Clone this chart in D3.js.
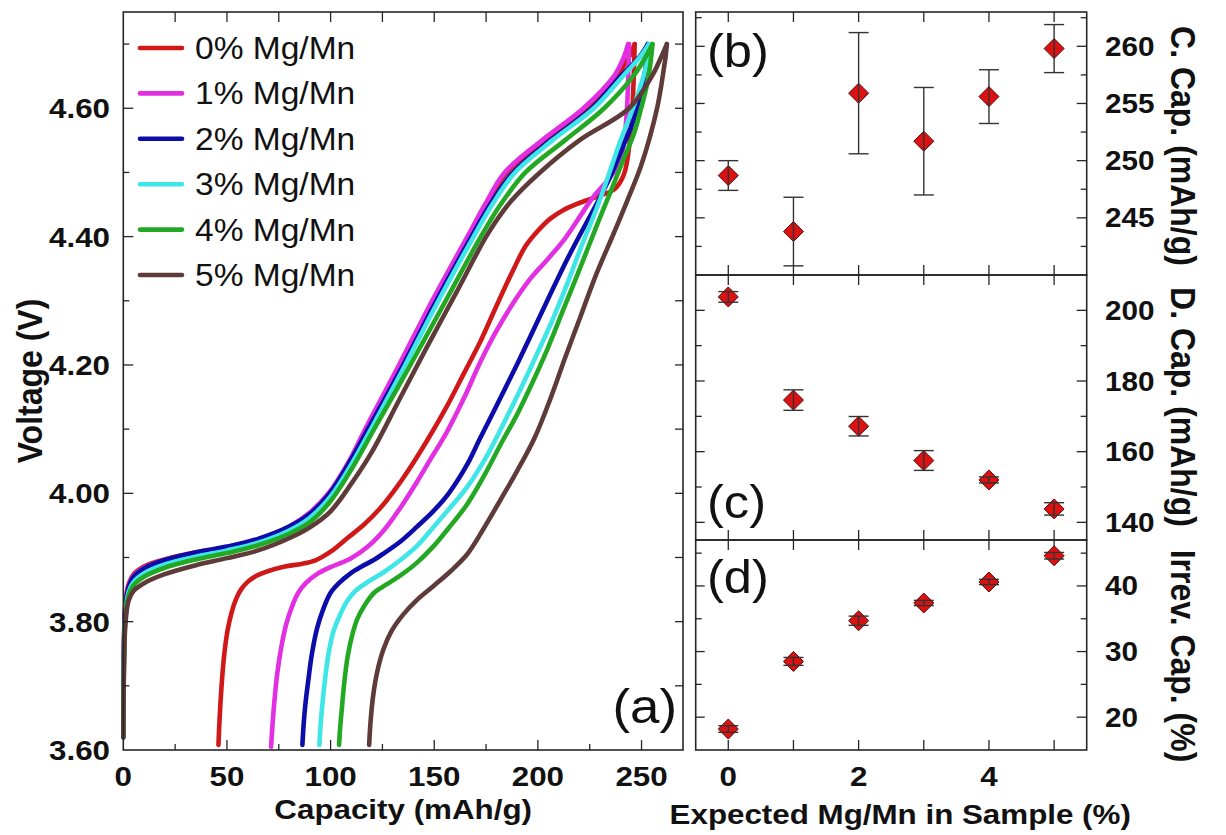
<!DOCTYPE html>
<html>
<head>
<meta charset="utf-8">
<script src="https://cdn.jsdelivr.net/npm/d3@7"></script>
<style>
  html, body { margin: 0; padding: 0; background: #fff; }
  svg { display: block; }
  text { font-family: "Liberation Sans", Arial, sans-serif; fill: #111; }
</style>
</head>
<body>
<svg id="fig" width="1226" height="835"></svg>
<script>
// ---------- data: voltage profiles (capacity mAh/g, voltage V) ----------
const seriesLabels = ["0% Mg/Mn", "1% Mg/Mn", "2% Mg/Mn", "3% Mg/Mn", "4% Mg/Mn", "5% Mg/Mn"];

const charge0 = [[0,3.62],[0.3,3.765],[1,3.828],[2.5,3.858],[5,3.874],[10,3.886],[20,3.897],[35,3.908],[50,3.916],[65,3.928],[80,3.948],[90,3.969],[99.5,4.0],[108.5,4.045],[118,4.105],[133.5,4.2],[149.5,4.3],[166.5,4.4],[175,4.45],[185,4.5],[203,4.55],[223,4.6],[238,4.65],[244,4.68],[246.7,4.70]];
const charge1 = [[0,3.62],[0.3,3.76],[1,3.825],[2.5,3.856],[5,3.872],[10,3.884],[20,3.896],[35,3.907],[50,3.915],[65,3.927],[80,3.948],[90,3.97],[99,4.0],[108,4.045],[117.5,4.105],[133,4.2],[149,4.3],[166,4.4],[174.5,4.45],[184,4.5],[202,4.55],[222,4.6],[236.7,4.65],[241.5,4.68],[243.5,4.70]];
const charge2 = [[0,3.62],[0.3,3.75],[1,3.82],[2.5,3.853],[5,3.87],[10,3.883],[20,3.896],[35,3.908],[50,3.917],[65,3.929],[80,3.948],[90,3.968],[99.5,4.0],[109,4.048],[118.5,4.103],[135,4.2],[151,4.3],[168,4.4],[177,4.45],[188,4.5],[206,4.55],[226,4.6],[240,4.65],[249,4.68],[253,4.70]];
const charge3 = [[0,3.62],[0.3,3.74],[1,3.812],[2.5,3.845],[5,3.862],[10,3.875],[20,3.889],[35,3.901],[50,3.911],[65,3.923],[80,3.942],[90,3.962],[100,3.995],[110,4.045],[119.5,4.1],[136,4.2],[152,4.3],[169,4.4],[178,4.45],[189,4.5],[207,4.55],[227,4.6],[241,4.65],[249.6,4.681],[253.6,4.70]];
const charge4 = [[0,3.62],[0.3,3.73],[1,3.805],[2.5,3.84],[5,3.857],[10,3.87],[20,3.884],[35,3.897],[50,3.907],[65,3.919],[80,3.937],[90,3.955],[100,3.988],[110,4.037],[121,4.1],[138.5,4.2],[155.5,4.3],[172.5,4.4],[182,4.45],[194,4.5],[213,4.55],[232,4.6],[246,4.65],[252,4.68],[255.3,4.70]];
const charge5 = [[0,3.62],[0.3,3.72],[1,3.795],[2.5,3.832],[5,3.848],[10,3.86],[20,3.874],[35,3.888],[50,3.899],[65,3.911],[80,3.93],[90,3.947],[100,3.972],[110,4.015],[120,4.065],[133,4.145],[146,4.225],[161,4.315],[176,4.405],[187,4.455],[201,4.5],[220,4.55],[244,4.6],[255,4.65],[259.5,4.68],[262.2,4.70]];

const discharge0 = [[246.7,4.70],[246.4,4.665],[245.6,4.6],[244.2,4.545],[241.5,4.497],[237,4.474],[230,4.464],[224,4.457],[218,4.45],[212.6,4.442],[206,4.428],[199.7,4.408],[194,4.385],[188.4,4.35],[180,4.292],[172.3,4.237],[164,4.185],[156,4.135],[148,4.09],[140,4.048],[132,4.01],[124,3.977],[116,3.951],[108,3.93],[100,3.909],[93,3.896],[86,3.89],[78,3.886],[70,3.879],[64,3.871],[60,3.862],[57,3.851],[54.5,3.836],[52.3,3.815],[50.5,3.79],[49.1,3.76],[48,3.725],[47.1,3.685],[46.4,3.645],[45.9,3.608]];
const discharge1 = [[244,4.70],[243.6,4.65],[243,4.6],[242,4.56],[240.5,4.53],[237.5,4.505],[233,4.485],[227,4.463],[220,4.43],[212.6,4.395],[204.5,4.364],[196,4.333],[188.4,4.298],[180,4.253],[172.3,4.205],[164.3,4.148],[156,4.095],[148,4.052],[141.7,4.018],[134,3.979],[125.6,3.942],[118,3.917],[109.5,3.898],[100,3.885],[93.4,3.874],[88,3.86],[84,3.843],[81,3.82],[78.5,3.795],[76.2,3.76],[74.3,3.72],[73,3.68],[72,3.64],[71.3,3.605]];
const discharge2 = [[253,4.70],[251.8,4.66],[249.5,4.62],[246,4.58],[241,4.54],[235,4.494],[229,4.455],[222,4.413],[214.2,4.365],[204.5,4.3],[191.6,4.212],[180,4.136],[172,4.085],[165.9,4.045],[157,4.0],[149.8,3.973],[141.7,3.948],[133.7,3.925],[125,3.905],[120.8,3.896],[115,3.886],[109.5,3.875],[104,3.86],[100,3.845],[96.5,3.82],[93.5,3.79],[91,3.75],[89.3,3.71],[87.8,3.67],[87,3.64],[86.4,3.608]];
const discharge3 = [[253.6,4.70],[252.5,4.67],[250.5,4.645],[247,4.61],[243.5,4.58],[240,4.551],[234,4.495],[228.7,4.447],[221,4.385],[214.2,4.327],[207,4.27],[199.7,4.218],[192,4.165],[185.2,4.12],[176,4.062],[165.9,4.01],[157,3.975],[149.8,3.948],[141.7,3.918],[133.7,3.896],[125.6,3.877],[118,3.862],[112,3.848],[108,3.832],[104.5,3.81],[101.4,3.785],[99,3.75],[97.3,3.71],[96,3.67],[95.2,3.64],[94.6,3.608]];
const discharge4 = [[255.3,4.70],[254.3,4.67],[252.8,4.639],[249.8,4.6],[246.4,4.561],[241.5,4.522],[236.7,4.483],[228.5,4.418],[220.6,4.353],[212.5,4.288],[204.5,4.224],[197,4.17],[190,4.123],[182,4.076],[174,4.027],[165.9,3.983],[157,3.946],[149.8,3.918],[141.7,3.892],[133.7,3.872],[127,3.858],[121,3.845],[116.5,3.826],[113,3.805],[110.5,3.78],[108.2,3.745],[106.6,3.705],[105.3,3.66],[104.5,3.63],[104.1,3.608]];
const discharge5 = [[262.2,4.70],[261.6,4.68],[260.9,4.665],[259.5,4.635],[257.7,4.603],[254,4.555],[249.6,4.509],[243,4.455],[236.7,4.406],[228,4.34],[220.6,4.276],[213,4.21],[206.1,4.148],[198.5,4.087],[190,4.035],[182,3.99],[174,3.946],[165.9,3.905],[158,3.879],[149.8,3.856],[141.7,3.834],[135,3.811],[129.5,3.786],[125.5,3.757],[122.5,3.722],[120.5,3.684],[119.3,3.645],[118.6,3.608]];

// ---------- data: summary panels ----------
const mgLevels = [0, 1, 2, 3, 4, 5];
const chargeCapMean = [248.7, 243.8, 255.9, 251.7, 255.6, 259.8];
const chargeCapErr = [1.3, 3.0, 5.3, 4.7, 2.35, 2.1];
const dischargeCapMean = [203.8, 174.6, 167.2, 157.5, 152.0, 143.8];
const dischargeCapErr = [1.5, 2.9, 2.75, 2.8, 0.85, 1.75];
const irrevCapMean = [18.2, 28.5, 34.7, 37.4, 40.6, 44.6];
const irrevCapErr = [0.5, 0.6, 0.7, 0.4, 0.4, 0.5];

// ---------- tick values ----------
const voltMajor = [3.6, 3.8, 4.0, 4.2, 4.4, 4.6];
const voltMinor = [3.7, 3.9, 4.1, 4.3, 4.5, 4.7];
const voltRight = [3.7, 3.8, 3.9, 4.0, 4.1, 4.2, 4.3, 4.4, 4.5, 4.6, 4.7];
const capMajor = [0, 50, 100, 150, 200, 250];
const capMinor = [25, 75, 125, 175, 225];
const capTop = [25, 50, 75, 100, 125, 150, 175, 200, 225, 250];
const mgTicks = [0, 1, 2, 3, 4, 5];
const mgLabels = [0, 2, 4];
const bMajor = [245, 250, 255, 260], bMinor = [242.5, 247.5, 252.5, 257.5, 262.5];
const cMajor = [140, 160, 180, 200], cMinor = [150, 170, 190];
const dMajor = [20, 30, 40], dMinor = [25, 35, 45];

// ---------- styling ----------
const seriesColors = ["#d01818", "#e22fe2", "#0c0caa", "#3ee6e6", "#23a823", "#5e3b38"];
const ink = "#262626";
const SX = 1.1;   // glyphs are a little wider than tall

const svg = d3.select("#fig");

function hText(g, txt, x, y, size, weight, anchor) {
  return g.append("text").text(txt)
    .attr("transform", `translate(${x},${y}) scale(${SX},1)`)
    .attr("font-size", size).attr("font-weight", weight)
    .attr("text-anchor", anchor);
}
function vText(g, txt, x, y, size, angle) {
  return g.append("text").text(txt)
    .attr("transform", `translate(${x},${y}) rotate(${angle}) scale(1,${SX})`)
    .attr("font-size", size).attr("font-weight", "bold")
    .attr("text-anchor", "middle");
}
function xTicks(g, scale, vals, y, len) {
  g.selectAll(null).data(vals).join("line")
    .attr("x1", d => scale(d)).attr("x2", d => scale(d))
    .attr("y1", y).attr("y2", y + len)
    .attr("stroke", ink).attr("stroke-width", 1.3);
}
function yTicks(g, scale, vals, x, len) {
  g.selectAll(null).data(vals).join("line")
    .attr("y1", d => scale(d)).attr("y2", d => scale(d))
    .attr("x1", x).attr("x2", x + len)
    .attr("stroke", ink).attr("stroke-width", 1.3);
}

// ================= panel (a): voltage profiles =================
const A = { left: 123.3, right: 683, top: 12, bottom: 750 };
const xA = d3.scaleLinear().domain([0, 270]).range([A.left, A.right]);
const yA = d3.scaleLinear().domain([3.6, 4.75]).range([A.bottom, A.top]);
const gA = svg.append("g");

const line = d3.line().x(d => xA(d[0])).y(d => yA(d[1])).curve(d3.curveCatmullRom.alpha(0.5));
const charges = [charge0, charge1, charge2, charge3, charge4, charge5];
const discharges = [discharge0, discharge1, discharge2, discharge3, discharge4, discharge5];

seriesLabels.forEach((s, i) => {
  [charges[i], discharges[i]].forEach(pts => {
    gA.append("path").attr("d", line(pts))
      .attr("fill", "none").attr("stroke", seriesColors[i])
      .attr("stroke-width", 4.6).attr("stroke-linecap", "round").attr("stroke-linejoin", "round");
  });
});

// frame and ticks
gA.append("rect").attr("x", A.left).attr("y", A.top)
  .attr("width", A.right - A.left).attr("height", A.bottom - A.top)
  .attr("fill", "none").attr("stroke", ink).attr("stroke-width", 1.6);
yTicks(gA, yA, voltMajor.slice(1), A.left, 10);
yTicks(gA, yA, voltMinor, A.left, 6);
yTicks(gA, yA, voltRight, A.right, -8);
xTicks(gA, xA, capMajor.slice(1), A.bottom, -10);
xTicks(gA, xA, capMinor, A.bottom, -6);
xTicks(gA, xA, capTop, A.top, 10);

voltMajor.forEach(v => hText(gA, v.toFixed(2), 110, yA(v) + 10, 28.5, "bold", "end"));
capMajor.forEach(v => hText(gA, String(v), xA(v), 786, 28.5, "bold", "middle"));
hText(gA, "Capacity (mAh/g)", (A.left + A.right) / 2, 819, 28.5, "bold", "middle");
vText(gA, "Voltage (V)", 42, (A.top + A.bottom) / 2, 32, -90);
hText(gA, "(a)", 677, 723, 48, "normal", "end");

// legend
const legend = gA.append("g");
seriesLabels.forEach((s, i) => {
  const y = 48 + i * 45.4;
  legend.append("line").attr("x1", 140).attr("x2", 182).attr("y1", y).attr("y2", y)
    .attr("stroke", seriesColors[i]).attr("stroke-width", 4.6).attr("stroke-linecap", "round");
  hText(legend, s, 195, y + 11, 30.5, "normal", "start");
});

// ================= panels (b)-(d): summary vs Mg content =================
const R = { left: 695.7, right: 1086.7 };
const xR = d3.scaleLinear().domain([-0.5, 5.5]).range([R.left, R.right]);

const panels = [
  { top: 12, bottom: 275, domain: [240, 263], mean: chargeCapMean, err: chargeCapErr,
    major: bMajor, minor: bMinor, title: "C. Cap. (mAh/g)", titleY: 146, tag: "(b)", tagY: 67 },
  { top: 275, bottom: 540, domain: [135, 210], mean: dischargeCapMean, err: dischargeCapErr,
    major: cMajor, minor: cMinor, title: "D. Cap. (mAh/g)", titleY: 407, tag: "(c)", tagY: 518 },
  { top: 540, bottom: 750, domain: [15, 47], mean: irrevCapMean, err: irrevCapErr,
    major: dMajor, minor: dMinor, title: "Irrev. Cap. (%)", titleY: 656, tag: "(d)", tagY: 593 }
];

const diamond = r => `M0,${-r}L${r},0L0,${r}L${-r},0Z`;

panels.forEach(p => {
  const g = svg.append("g");
  const y = d3.scaleLinear().domain(p.domain).range([p.bottom, p.top]);

  xTicks(g, xR, mgTicks, p.top, 10);
  xTicks(g, xR, mgTicks, p.bottom, -10);
  yTicks(g, y, p.major, R.left, 9);
  yTicks(g, y, p.minor, R.left, 6);
  yTicks(g, y, p.major, R.right, -10);
  yTicks(g, y, p.minor, R.right, -6);

  // markers
  g.selectAll(null).data(mgLevels).join("path")
    .attr("d", diamond(10))
    .attr("transform", (d, i) => `translate(${xR(d)},${y(p.mean[i])})`)
    .attr("fill", "#dc1212").attr("stroke", "#5a0a0a").attr("stroke-width", 1);

  // error bars
  const eb = g.selectAll(null).data(mgLevels).join("g").attr("stroke", "#333").attr("stroke-width", 1.4);
  eb.append("line")
    .attr("x1", d => xR(d)).attr("x2", d => xR(d))
    .attr("y1", (d, i) => y(p.mean[i] + p.err[i])).attr("y2", (d, i) => y(p.mean[i] - p.err[i]));
  eb.append("line")
    .attr("x1", d => xR(d) - 10).attr("x2", d => xR(d) + 10)
    .attr("y1", (d, i) => y(p.mean[i] + p.err[i])).attr("y2", (d, i) => y(p.mean[i] + p.err[i]));
  eb.append("line")
    .attr("x1", d => xR(d) - 10).attr("x2", d => xR(d) + 10)
    .attr("y1", (d, i) => y(p.mean[i] - p.err[i])).attr("y2", (d, i) => y(p.mean[i] - p.err[i]));

  g.append("rect").attr("x", R.left).attr("y", p.top)
    .attr("width", R.right - R.left).attr("height", p.bottom - p.top)
    .attr("fill", "none").attr("stroke", ink).attr("stroke-width", 1.6);

  p.major.forEach(v => hText(g, String(v), 1105, y(v) + 9.5, 27, "bold", "start"));
  vText(g, p.title, 1171, p.titleY, 32, 90);
  hText(g, p.tag, 707, p.tagY, 46, "normal", "start");
});

mgLabels.forEach(v => hText(svg, String(v), xR(v), 786, 28.5, "bold", "middle"));
hText(svg, "Expected Mg/Mn in Sample (%)", (R.left + R.right) / 2 + 9, 824, 28.5, "bold", "middle");
</script>
</body>
</html>
